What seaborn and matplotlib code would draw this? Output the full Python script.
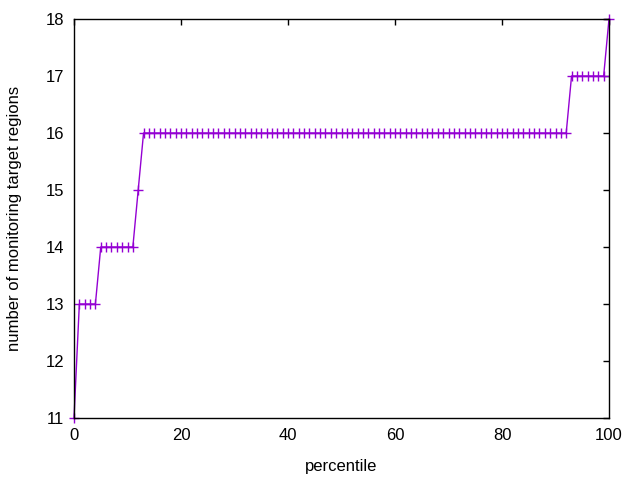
import matplotlib
matplotlib.use("Agg")
import matplotlib.pyplot as plt
import seaborn as sns
import pandas as pd

percentile = list(range(0, 101))
regions = [
    11,
    13, 13, 13, 13,
    14, 14, 14, 14, 14, 14, 14,
    15,
    16, 16, 16, 16, 16, 16, 16, 16, 16, 16,
    16, 16, 16, 16, 16, 16, 16, 16, 16, 16,
    16, 16, 16, 16, 16, 16, 16, 16, 16, 16,
    16, 16, 16, 16, 16, 16, 16, 16, 16, 16,
    16, 16, 16, 16, 16, 16, 16, 16, 16, 16,
    16, 16, 16, 16, 16, 16, 16, 16, 16, 16,
    16, 16, 16, 16, 16, 16, 16, 16, 16, 16,
    16, 16, 16, 16, 16, 16, 16, 16, 16, 16,
    17, 17, 17, 17, 17, 17, 17,
    18,
]
x_ticks = [0, 20, 40, 60, 80, 100]
y_ticks = [11, 12, 13, 14, 15, 16, 17, 18]

df = pd.DataFrame({"percentile": percentile, "regions": regions})

sns.set_style("white")
plt.rcParams["font.family"] = ["Liberation Sans", "DejaVu Sans"]
plt.rcParams["text.color"] = "black"
plt.rcParams["axes.labelcolor"] = "black"
plt.rcParams["xtick.color"] = "black"
plt.rcParams["ytick.color"] = "black"

fig = plt.figure(figsize=(6.4, 4.8), dpi=100)
ax = fig.add_axes([74 / 640, 1 - 418 / 480, (609 - 74) / 640, (418 - 19) / 480])

sns.lineplot(data=df, x="percentile", y="regions", ax=ax, color="#9400D3",
             marker="+", markersize=6.5, markeredgewidth=1.0, linewidth=1.0,
             markeredgecolor="#9400D3", clip_on=False)

ax.set_xlim(0, 100)
ax.set_ylim(11, 18)
ax.set_xticks(x_ticks)
ax.set_yticks(y_ticks)
ax.tick_params(direction="in", length=4, width=1, colors="black",
               top=True, right=True, labelsize=12, pad=7)
for s in ax.spines.values():
    s.set_visible(True)
    s.set_color("black")
    s.set_linewidth(1.0)

ax.set_xlabel("percentile", fontsize=12, labelpad=12, color="black")
ax.set_ylabel("number of monitoring target regions", fontsize=12, labelpad=17,
              color="black")

fig.savefig("out.png", dpi=100)
